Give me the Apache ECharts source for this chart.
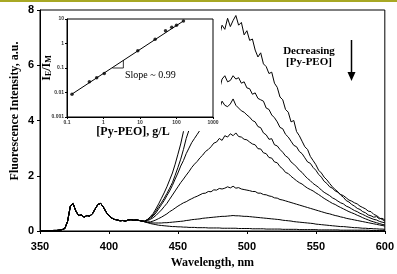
<!DOCTYPE html>
<html style="height: 100%">
<head>
<meta charset="utf-8">
<script src="https://cdn.jsdelivr.net/npm/echarts@6/dist/echarts.min.js"></script>
</head>
<body style="height: 100%; margin: 0; background: #fff">
<div id="container" style="width: 397px; height: 274px"></div>
<script type="text/javascript">
// shared monomer part of every spectrum, 350..424 nm every 2 nm
var monomer = [
  0, 0, 0, 0.01, 0.01, 0.02, 0.02, 0.03, 0.05, 0.09,
  0.35, 0.90, 0.99, 0.72, 0.56, 0.58, 0.50, 0.56, 0.54, 0.62,
  0.80, 0.96, 1.00, 0.86, 0.68, 0.55, 0.47, 0.42, 0.40, 0.37,
  0.38, 0.36, 0.40, 0.41, 0.39, 0.40, 0.38, 0.36
];
// excimer part, 426..600 nm every 2 nm, highest [Py-PEO] first
var specA = [
  0.36, 0.42, 0.52, 0.63, 0.80, 0.98, 1.18, 1.38, 1.60, 1.85,
  2.10, 2.42, 2.78, 3.15, 3.60, 3.92, 4.35, 4.70, 5.10, 5.40,
  5.85, 6.10, 6.45, 6.70, 7.05, 7.10, 7.20, 7.05, 7.45, 7.30,
  7.70, 7.40, 7.62, 7.80, 7.45, 7.55, 7.10, 7.25, 6.90, 6.95,
  6.55, 6.30, 6.45, 6.05, 5.95, 5.70, 5.75, 5.35, 5.20, 4.85,
  4.75, 4.40, 4.30, 3.95, 4.00, 3.60, 3.45, 3.25, 3.05, 2.95,
  2.70, 2.55, 2.40, 2.20, 2.10, 1.95, 1.85, 1.72, 1.60, 1.50,
  1.42, 1.30, 1.22, 1.10, 1.05, 0.96, 0.90, 0.82, 0.78, 0.70,
  0.66, 0.58, 0.55, 0.50, 0.52, 0.44, 0.46, 0.40
];
var specB = [
  0.36, 0.42, 0.50, 0.58, 0.72, 0.88, 1.02, 1.18, 1.36, 1.55,
  1.75, 2.02, 2.30, 2.60, 2.95, 3.35, 3.65, 3.90, 4.10, 4.35,
  4.50, 4.70, 4.85, 4.95, 5.15, 5.20, 5.40, 5.10, 5.50, 5.62,
  5.40, 5.45, 5.62, 5.50, 5.55, 5.35, 5.40, 5.18, 5.15, 4.95,
  5.00, 4.80, 4.75, 4.70, 4.45, 4.40, 4.20, 4.10, 3.95, 3.75,
  3.70, 3.50, 3.40, 3.25, 3.10, 3.05, 2.88, 2.80, 2.65, 2.50,
  2.45, 2.30, 2.20, 2.05, 1.95, 1.80, 1.72, 1.60, 1.55, 1.45,
  1.40, 1.32, 1.28, 1.20, 1.12, 1.08, 1.02, 0.98, 0.90, 0.85,
  0.80, 0.72, 0.70, 0.60, 0.56, 0.48, 0.42, 0.36
];
var specC = [
  0.35, 0.40, 0.46, 0.54, 0.65, 0.80, 0.95, 1.10, 1.28, 1.45,
  1.65, 1.88, 2.10, 2.35, 2.55, 2.80, 3.00, 3.20, 3.35, 3.50,
  3.65, 3.85, 3.95, 4.10, 4.20, 4.30, 4.45, 4.40, 4.70, 4.55,
  4.50, 4.60, 4.78, 4.55, 4.45, 4.35, 4.30, 4.20, 4.12, 4.00,
  3.95, 3.78, 3.74, 3.55, 3.48, 3.32, 3.34, 3.12, 3.08, 2.95,
  2.85, 2.72, 2.65, 2.50, 2.42, 2.32, 2.20, 2.12, 2.00, 1.90,
  1.82, 1.72, 1.65, 1.58, 1.48, 1.40, 1.34, 1.28, 1.20, 1.15,
  1.08, 1.02, 0.98, 0.90, 0.86, 0.80, 0.74, 0.70, 0.64, 0.60,
  0.55, 0.50, 0.46, 0.42, 0.40, 0.35, 0.32, 0.30
];
var specD = [
  0.35, 0.38, 0.42, 0.48, 0.56, 0.66, 0.76, 0.88, 1.00, 1.15,
  1.30, 1.45, 1.60, 1.75, 1.88, 2.02, 2.15, 2.30, 2.42, 2.52,
  2.65, 2.75, 2.88, 2.95, 3.05, 3.18, 3.22, 3.35, 3.28, 3.45,
  3.40, 3.52, 3.45, 3.55, 3.42, 3.40, 3.32, 3.30, 3.22, 3.15,
  3.12, 2.98, 2.97, 2.83, 2.80, 2.66, 2.64, 2.50, 2.47, 2.33,
  2.25, 2.12, 2.08, 1.98, 1.90, 1.82, 1.75, 1.70, 1.62, 1.55,
  1.50, 1.45, 1.38, 1.32, 1.25, 1.18, 1.12, 1.06, 1.00, 0.96,
  0.90, 0.85, 0.80, 0.75, 0.70, 0.66, 0.62, 0.57, 0.53, 0.48,
  0.44, 0.40, 0.36, 0.33, 0.30, 0.27, 0.24, 0.22
];
var specE = [
  0.34, 0.33, 0.33, 0.36, 0.40, 0.45, 0.50, 0.56, 0.62, 0.70,
  0.76, 0.83, 0.90, 0.96, 1.02, 1.06, 1.12, 1.17, 1.22, 1.26,
  1.31, 1.36, 1.37, 1.43, 1.42, 1.49, 1.48, 1.54, 1.52, 1.55,
  1.60, 1.56, 1.62, 1.55, 1.57, 1.52, 1.50, 1.48, 1.46, 1.43,
  1.43, 1.37, 1.37, 1.32, 1.31, 1.27, 1.25, 1.20, 1.19, 1.14,
  1.12, 1.09, 1.06, 1.03, 1.00, 0.97, 0.94, 0.91, 0.88, 0.85,
  0.82, 0.79, 0.76, 0.73, 0.70, 0.67, 0.64, 0.62, 0.59, 0.56,
  0.54, 0.51, 0.49, 0.46, 0.44, 0.42, 0.40, 0.38, 0.36, 0.34,
  0.32, 0.30, 0.28, 0.26, 0.24, 0.22, 0.20, 0.18
];
var specF = [
  0.33, 0.31, 0.30, 0.29, 0.29, 0.29, 0.29, 0.30, 0.30, 0.31,
  0.32, 0.33, 0.34, 0.35, 0.36, 0.38, 0.39, 0.41, 0.42, 0.43,
  0.44, 0.46, 0.47, 0.48, 0.49, 0.50, 0.51, 0.52, 0.53, 0.53,
  0.54, 0.55, 0.56, 0.55, 0.55, 0.54, 0.53, 0.53, 0.52, 0.51,
  0.50, 0.49, 0.48, 0.47, 0.46, 0.45, 0.44, 0.43, 0.42, 0.41,
  0.39, 0.38, 0.37, 0.36, 0.34, 0.33, 0.32, 0.31, 0.30, 0.29,
  0.28, 0.27, 0.25, 0.24, 0.23, 0.22, 0.21, 0.20, 0.19, 0.18,
  0.17, 0.16, 0.16, 0.15, 0.14, 0.13, 0.12, 0.12, 0.11, 0.10,
  0.10, 0.09, 0.09, 0.08, 0.08, 0.07, 0.07, 0.06
];
var specG = [
  0.33, 0.30, 0.27, 0.25, 0.23, 0.21, 0.20, 0.19, 0.18, 0.17,
  0.16, 0.16, 0.15, 0.15, 0.14, 0.14, 0.13, 0.13, 0.13, 0.12,
  0.12, 0.12, 0.12, 0.11, 0.11, 0.11, 0.11, 0.11, 0.10, 0.10,
  0.10, 0.10, 0.10, 0.10, 0.09, 0.09, 0.09, 0.09, 0.09, 0.08,
  0.08, 0.08, 0.08, 0.08, 0.07, 0.07, 0.07, 0.07, 0.07, 0.07,
  0.06, 0.06, 0.06, 0.06, 0.06, 0.06, 0.05, 0.05, 0.05, 0.05,
  0.05, 0.05, 0.05, 0.04, 0.04, 0.04, 0.04, 0.04, 0.04, 0.04,
  0.04, 0.03, 0.03, 0.03, 0.03, 0.03, 0.03, 0.03, 0.03, 0.03,
  0.03, 0.03, 0.02, 0.02, 0.02, 0.02, 0.02, 0.02
];

// inset: I_E/I_M against [Py-PEO]
var conc  = [0.137, 0.41, 0.65, 1.05, 8.7, 26, 50, 74, 100, 155];
var ratio = [0.0085, 0.0275, 0.04, 0.06, 0.51, 1.5, 3.3, 4.6, 5.5, 8.3];
var fitX = [0.135, 155];
var fitY = [0.0085, 8.3];
var slopeX = [1.75, 3.5, 3.5];
var slopeY = [0.1, 0.1, 0.21];

var xTicks = [350, 400, 450, 500, 550, 600];
var yTicks = [0, 2, 4, 6, 8];

var wavelengths = [];
for (var w = 350; w <= 600; w += 2) wavelengths.push(w);

function spectrum(ex) {
    return wavelengths.map(function (wl, i) {
        return [wl, i < monomer.length ? monomer[i] : ex[i - monomer.length]];
    });
}
function pairs(xs, ys) {
    return xs.map(function (x, i) { return [x, ys[i]]; });
}

var sans = 'Liberation Sans';
var serif = 'Liberation Serif';
var TOP = 1; // layer for the inset, drawn over the spectra

var dom = document.getElementById('container');
var myChart = echarts.init(dom, null, { renderer: 'canvas' });

var mainSeries = [specA, specB, specC, specD, specE, specF, specG].map(function (s) {
    return {
        type: 'line',
        xAxisIndex: 0, yAxisIndex: 0,
        data: spectrum(s),
        showSymbol: false,
        lineStyle: { color: '#000', width: 1 },
        z: 2
    };
});

var option = {
    animation: false,
    backgroundColor: '#fff',
    grid: [
        { left: 40, right: 8, top: 10, bottom: 43, show: true, borderColor: '#000', borderWidth: 1, backgroundColor: 'transparent' },
        { left: 67, right: 184, top: 19, bottom: 157, show: true, borderColor: '#000', borderWidth: 1, backgroundColor: 'transparent', zlevel: TOP, z: 1 }
    ],
    xAxis: [{
        type: 'value', gridIndex: 0,
        min: xTicks[0], max: xTicks[xTicks.length - 1], interval: 50,
        name: 'Wavelength, nm', nameLocation: 'middle', nameGap: 26, nameMoveOverlap: false,
        nameTextStyle: { fontFamily: serif, fontWeight: 'bold', fontSize: 12, color: '#000' },
        axisLine: { lineStyle: { color: '#000' } },
        axisTick: { length: 3, lineStyle: { color: '#000' } },
        axisLabel: { fontFamily: sans, fontWeight: 'bold', fontSize: 11, color: '#000', margin: 10 },
        splitLine: { show: false }
    }, {
        type: 'log', logBase: 10, gridIndex: 1, min: 0.1, max: 1000, zlevel: TOP, z: 2,
        name: '[Py-PEO], g/L', nameLocation: 'middle', nameGap: 9, nameMoveOverlap: false,
        nameTextStyle: { fontFamily: serif, fontWeight: 'bold', fontSize: 12, color: '#000', padding: [0, 14, 0, 0] },
        axisLine: { lineStyle: { color: '#000' } },
        axisTick: { length: 2, lineStyle: { color: '#000' } },
        minorTick: { show: false },
        axisLabel: { fontFamily: sans, fontWeight: 'bold', fontSize: 5, color: '#333', margin: 3,
            formatter: function (v) { return String(+v.toPrecision(3)); } },
        splitLine: { show: false }
    }],
    yAxis: [{
        type: 'value', gridIndex: 0,
        min: yTicks[0], max: yTicks[yTicks.length - 1], interval: 2,
        axisLine: { show: true, lineStyle: { color: '#000' } },
        axisTick: { show: true, length: 3, lineStyle: { color: '#000' } },
        axisLabel: { fontFamily: sans, fontWeight: 'bold', fontSize: 11, color: '#000', margin: 6 },
        splitLine: { show: false }
    }, {
        type: 'log', logBase: 10, gridIndex: 1, min: 0.001, max: 10, zlevel: TOP, z: 2,
        name: '{a|I}{b|E}{a|/I}{b|M}', nameLocation: 'middle', nameGap: 14, nameMoveOverlap: false,
        nameTextStyle: {
            fontFamily: serif, fontWeight: 'bold', fontSize: 12, color: '#000',
            rich: {
                a: { fontFamily: serif, fontWeight: 'bold', fontSize: 12, color: '#000', verticalAlign: 'bottom' },
                b: { fontFamily: serif, fontWeight: 'bold', fontSize: 8, color: '#000', verticalAlign: 'bottom' }
            }
        },
        axisLine: { show: true, lineStyle: { color: '#000' } },
        axisTick: { show: true, length: 2, lineStyle: { color: '#000' } },
        minorTick: { show: false },
        axisLabel: { fontFamily: sans, fontWeight: 'bold', fontSize: 5, color: '#333', margin: 3,
            formatter: function (v) { return String(+v.toPrecision(3)); } },
        splitLine: { show: false }
    }],
    graphic: {
        elements: [
            // olive rule along the top edge
            { type: 'rect', shape: { x: 0, y: 0, width: 397, height: 2 }, style: { fill: '#a8a824' } },
            // white panel behind the inset, hides the spectra there
            { type: 'rect', zlevel: TOP, z: 0, silent: true,
              shape: { x: 41, y: 11, width: 180, height: 120 }, style: { fill: '#fff' } },
            { type: 'text', x: 15, y: 111, rotation: Math.PI / 2,
              style: { text: 'Fluorescence Intensity, a.u.', fill: '#000', font: 'bold 12px "Liberation Serif"',
                       align: 'center', verticalAlign: 'middle' } },
            { type: 'text', x: 309, y: 57,
              style: { text: 'Decreasing\n[Py-PEO]', fill: '#000', font: 'bold 11px "Liberation Serif"',
                       align: 'center', verticalAlign: 'middle', lineHeight: 11 } },
            { type: 'line', shape: { x1: 351.5, y1: 40, x2: 351.5, y2: 74 }, style: { stroke: '#000', lineWidth: 1.5 } },
            { type: 'polygon', shape: { points: [[347.5, 72], [355.5, 72], [351.5, 81]] }, style: { fill: '#000' } },
            { type: 'text', x: 125, y: 75, zlevel: TOP, z: 10,
              style: { text: 'Slope ~ 0.99', fill: '#000', font: '10px "Liberation Serif"', align: 'left', verticalAlign: 'middle' } }
        ]
    },
    series: mainSeries.concat([
        {
            type: 'line', xAxisIndex: 1, yAxisIndex: 1, zlevel: TOP, z: 3,
            data: pairs(fitX, fitY), showSymbol: false,
            lineStyle: { color: '#000', width: 1 }
        },
        {
            type: 'line', xAxisIndex: 1, yAxisIndex: 1, zlevel: TOP, z: 3,
            data: pairs(slopeX, slopeY), showSymbol: false,
            lineStyle: { color: '#000', width: 0.8 }
        },
        {
            type: 'scatter', xAxisIndex: 1, yAxisIndex: 1, zlevel: TOP, z: 4,
            data: pairs(conc, ratio), symbolSize: 3.5,
            itemStyle: { color: '#000' }
        }
    ])
};

if (option && typeof option === 'object') {
    myChart.setOption(option, true);
}
</script>
</body>
</html>
